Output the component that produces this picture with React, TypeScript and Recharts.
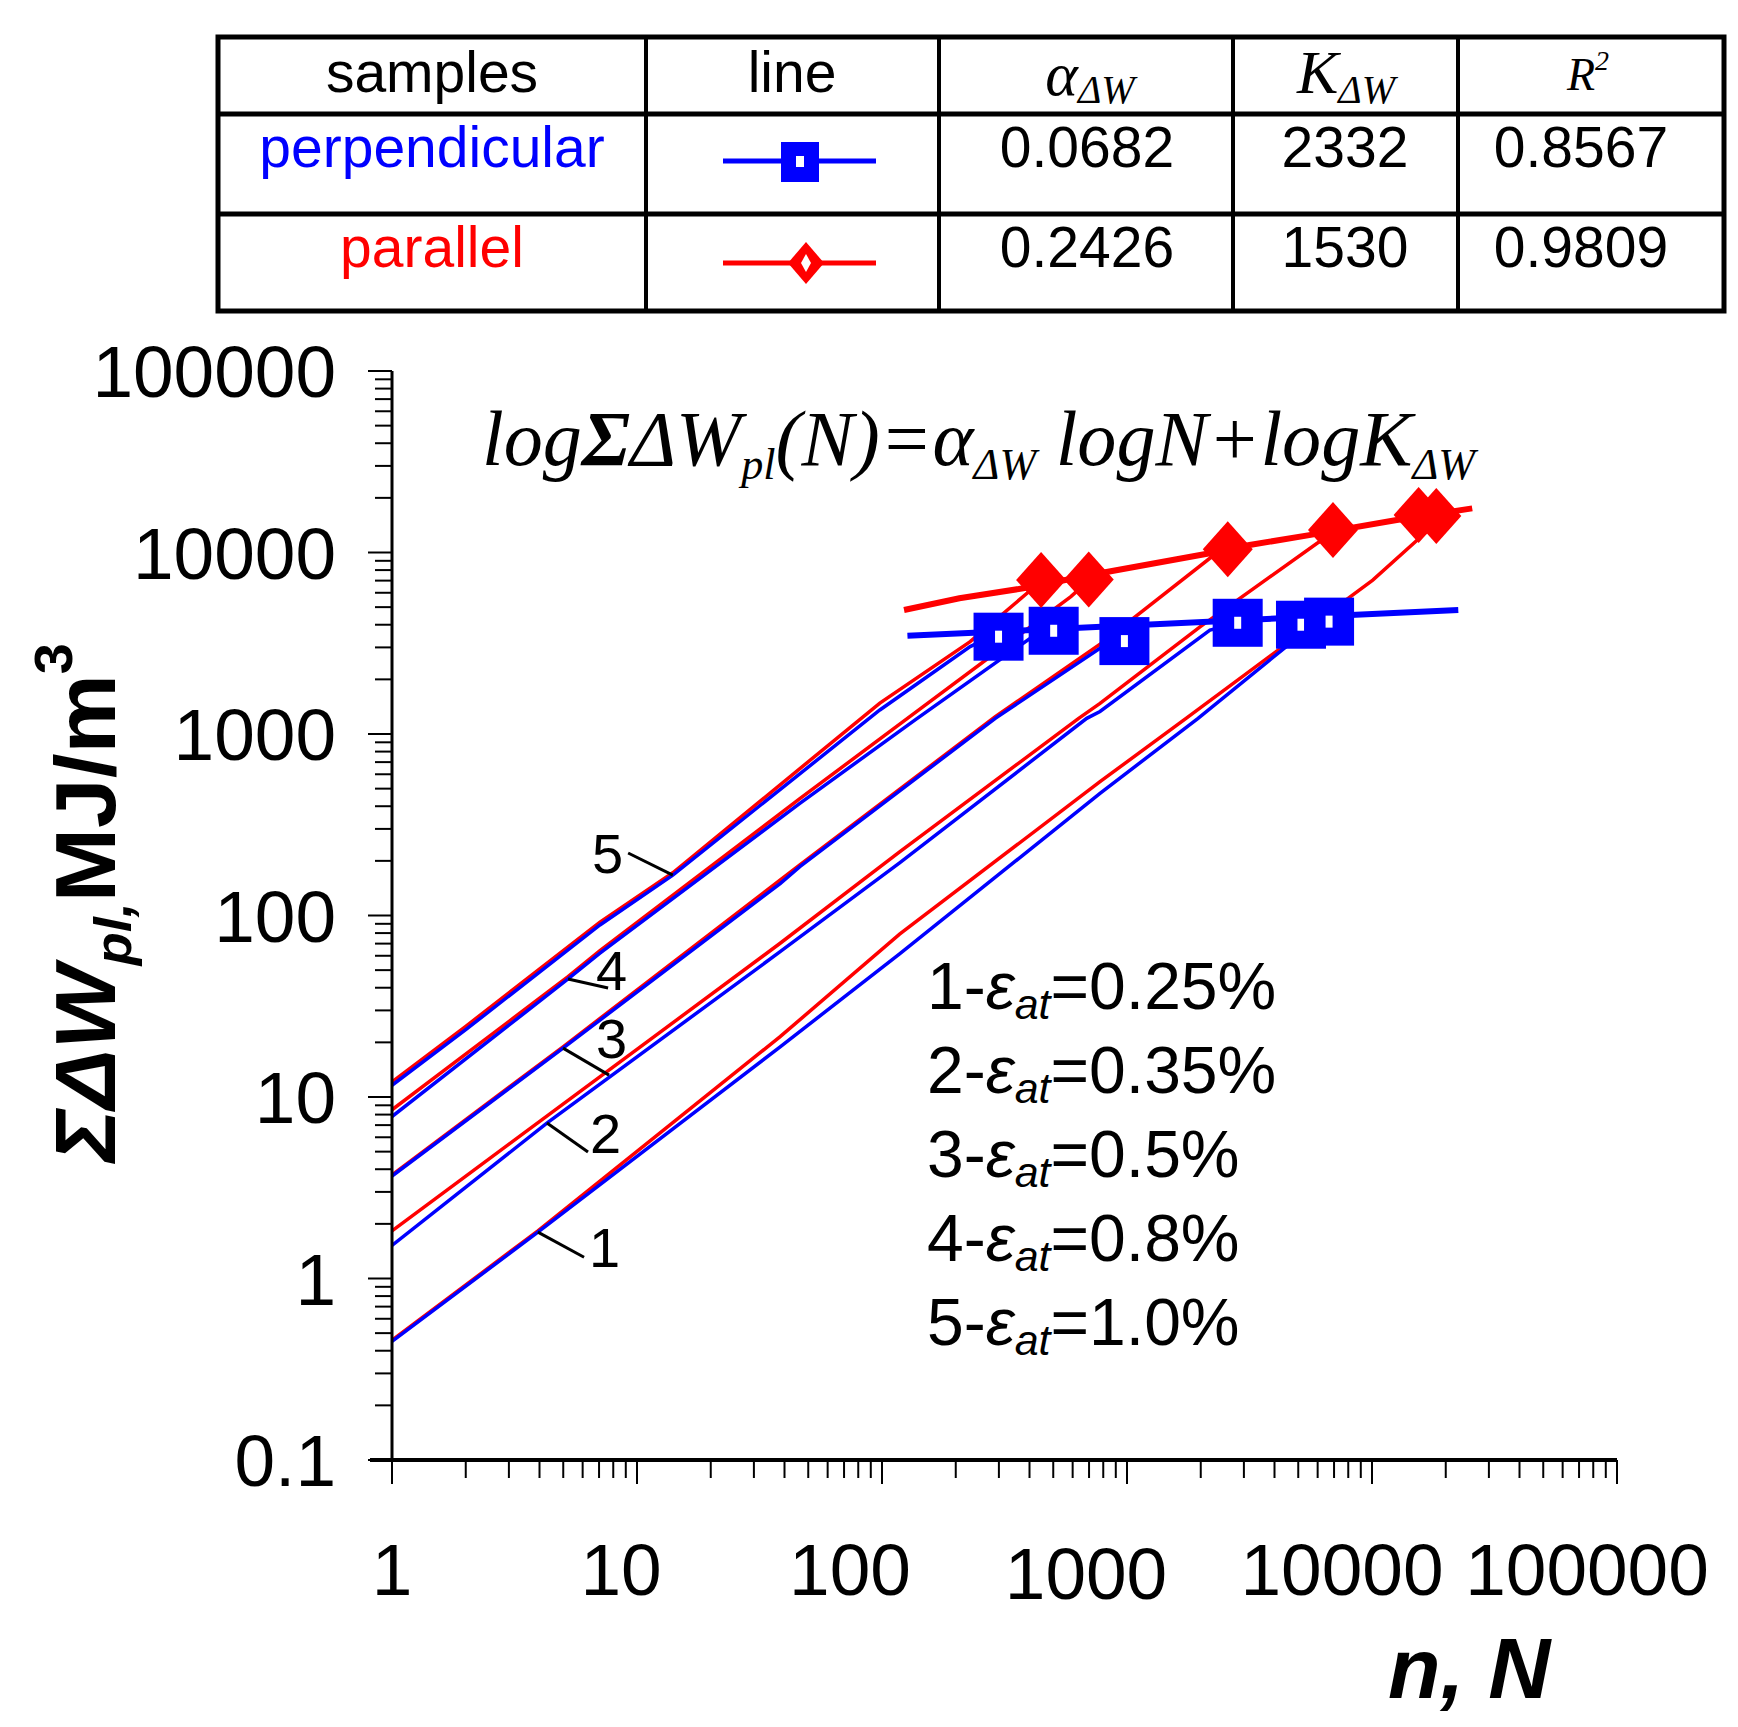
import React from "react";
import {
  ComposedChart,
  Line,
  Scatter,
  XAxis,
  YAxis,
  ReferenceLine,
  ReferenceDot,
} from "recharts";

type Pt = [number, number];

// [N cycles, ΣΔW_pl MJ/m3]
const perp1: Pt[] = [[1, 0.45], [3.94, 1.8], [38.4, 18.9], [118, 61.4], [776, 471], [1950, 1220], [4764, 3250], [6300, 4170]];
const para1: Pt[] = [[1, 0.457], [3.94, 1.83], [38.4, 21.5], [118, 79], [776, 546], [1742, 1220], [10070, 7050], [17000, 13300], [18000, 15800]];
const perp2: Pt[] = [[1, 1.52], [4.3, 7.2], [38.4, 63.2], [118, 195], [685, 1220], [776, 1330], [2180, 3740], [2700, 4000]];
const para2: Pt[] = [[1, 1.83], [38.4, 70.3], [118, 224], [635, 1220], [776, 1476], [1986, 3890], [5970, 11250], [7000, 12800]];
const perp3: Pt[] = [[1, 3.67], [4.99, 18.6], [38.4, 150], [46.2, 186], [290, 1220], [795, 3030], [900, 3300]];
const para3: Pt[] = [[1, 3.72], [4.99, 18.9], [46.2, 190], [290, 1245], [795, 3200], [2178, 9290], [2500, 10300]];
const perp4: Pt[] = [[1, 7.8], [5.23, 44.7], [7.06, 62], [46.2, 415], [137, 1200], [400, 3350], [502, 3750]];
const para4: Pt[] = [[1, 8.5], [5.23, 46], [7.06, 64], [46.2, 440], [127, 1220], [590, 5710], [698, 7000]];
const perp5: Pt[] = [[1, 11.6], [2, 23.5], [7.06, 88.7], [14, 167], [98, 1356], [229, 3030], [299, 3600]];
const para5: Pt[] = [[1, 12.1], [2, 24.5], [7.06, 92], [14, 172], [98, 1480], [229, 3230], [405, 6210], [446, 7000]];

// fitted lines and failure points
const perpFit: Pt[] = [[127, 3475], [22500, 4820]];
const paraFit: Pt[] = [[123, 4820], [207, 5600], [377, 6350], [794, 7740], [2178, 9910], [3162, 10990], [5546, 12470], [12620, 15100], [25650, 17500]];
const perpMarks: Pt[] = [[299, 3437], [502, 3705], [976, 3250], [2830, 4100], [5130, 4000], [6680, 4160]];
const paraMarks: Pt[] = [[446, 7050], [698, 7110], [2578, 10420], [6930, 13300], [15500, 16100], [18300, 15900]];

// curve labels with leader lines: point on curve -> outer end
const curveLabels = ["1", "2", "3", "4", "5"];
const leaderOn: Pt[] = [[3.94, 1.8], [4.29, 7.19], [4.99, 18.6], [5.23, 44.7], [14, 167]];
const leaderOut: Pt[] = [[6.08, 1.31], [6.31, 4.98], [7.69, 13.2], [7.62, 39.9], [9.2, 221]];

const strains = ["0.25", "0.35", "0.5", "0.8", "1.0"];

const tableHead = ["samples", "line"];
const samples = ["perpendicular", "parallel"];
const alphaVals = ["0.0682", "0.2426"];
const kVals = ["2332", "1530"];
const r2Vals = ["0.8567", "0.9809"];

const xMajor = [1, 10, 100, 1000, 10000, 100000];
const yMajor = [0.1, 1, 10, 100, 1000, 10000, 100000];

const BLUE = "#0000ff";
const RED = "#ff0000";
const SANS = "'Liberation Sans', Arial, sans-serif";
const SERIF = "'Liberation Serif', 'Times New Roman', serif";

const toPts = (a: Pt[]) => a.map(([n, w]) => ({ n, w }));

function withMinors(majors: number[]) {
  const out = [...majors];
  majors.slice(0, -1).forEach((m) => {
    for (let k = 2; k <= 9; k++) out.push(m * k);
  });
  return out.sort((a, b) => a - b);
}

const isMajor = (v: number) =>
  Math.abs(Math.log10(v) - Math.round(Math.log10(v))) < 1e-9;

// label nudges as in the original figure
const X_SHIFT: Record<string, number> = {
  "1": 0, "10": -16, "100": -32, "1000": -41, "10000": -30, "100000": -30,
};

function XTick(props: any) {
  const { x, y, payload } = props;
  const v = payload.value;
  const major = isMajor(v);
  const label = String(v);
  return (
    <g>
      <line x1={x} x2={x} y1={y} y2={y + (major ? 24 : 18)} stroke="#000" strokeWidth={2} />
      {v === 1 && <line x1={x - 22} x2={x} y1={y} y2={y} stroke="#000" strokeWidth={4} />}
      {major && (
        <text x={x + (X_SHIFT[label] ?? 0)} y={y + (label === "1000" ? 139 : 135)} textAnchor="middle" fontFamily={SANS} fontSize={73} fill="#000">
          {label}
        </text>
      )}
    </g>
  );
}

function YTick(props: any) {
  const { x, y, payload } = props;
  const v = payload.value;
  const major = isMajor(v);
  return (
    <g>
      <line x1={x - (major ? 24 : 17)} x2={x} y1={y} y2={y} stroke="#000" strokeWidth={2} />
      {major && (
        <text x={x - 56} y={y} dy="0.36em" textAnchor="end" fontFamily={SANS} fontSize={73} fill="#000">
          {String(v)}
        </text>
      )}
    </g>
  );
}

function SquareMark(props: any) {
  const { cx, cy } = props;
  return (
    <g>
      <rect x={cx - 25} y={cy - 24} width={50} height={48} fill={BLUE} />
      <rect x={cx - 3.5} y={cy - 6} width={7} height={12} fill="#fff" />
    </g>
  );
}

function DiamondMark(props: any) {
  const { cx, cy } = props;
  return (
    <polygon
      points={`${cx},${cy - 28} ${cx + 25},${cy} ${cx},${cy + 28} ${cx - 25},${cy}`}
      fill={RED}
    />
  );
}

const LABEL_OFFSET: [number, number, "start" | "end"][] = [
  [5, 10, "start"], [2, 1, "start"], [-13, -17, "start"], [-12, 2, "start"], [-5, 20, "end"],
];

function Overlay() {
  const colX = [218, 646, 939, 1233, 1458, 1724];
  const rowY = [37, 114, 214, 311];
  const rowBase = [167, 267];
  return (
    <svg
      width={1738}
      height={1727}
      style={{ position: "absolute", left: 0, top: 0, pointerEvents: "none" }}
    >
      {/* table */}
      <rect x={colX[0]} y={rowY[0]} width={colX[5] - colX[0]} height={rowY[3] - rowY[0]} fill="none" stroke="#000" strokeWidth={5} />
      {rowY.slice(1, 3).map((y) => (
        <line key={y} x1={colX[0]} x2={colX[5]} y1={y} y2={y} stroke="#000" strokeWidth={5} />
      ))}
      {colX.slice(1, 5).map((x) => (
        <line key={x} x1={x} x2={x} y1={rowY[0]} y2={rowY[3]} stroke="#000" strokeWidth={4} />
      ))}
      <text x={432} y={92} textAnchor="middle" fontFamily={SANS} fontSize={57}>{tableHead[0]}</text>
      <text x={792} y={92} textAnchor="middle" fontFamily={SANS} fontSize={57}>{tableHead[1]}</text>
      <text x={1090} y={95} textAnchor="middle" fontFamily={SERIF} fontStyle="italic" fontSize={62}>
        α<tspan fontSize={40} dy={8}>ΔW</tspan>
      </text>
      <text x={1346} y={93} textAnchor="middle" fontFamily={SERIF} fontStyle="italic" fontSize={62}>
        K<tspan fontSize={40} dy={10}>ΔW</tspan>
      </text>
      <text x={1588} y={90} textAnchor="middle" fontFamily={SERIF} fontStyle="italic" fontSize={46}>
        R<tspan fontSize={28} dy={-20}>2</tspan>
      </text>
      {samples.map((s, i) => (
        <g key={s}>
          <text x={432} y={rowBase[i]} textAnchor="middle" fontFamily={SANS} fontSize={57} fill={i === 0 ? BLUE : RED}>{s}</text>
          <text x={1087} y={rowBase[i]} textAnchor="middle" fontFamily={SANS} fontSize={57}>{alphaVals[i]}</text>
          <text x={1345} y={rowBase[i]} textAnchor="middle" fontFamily={SANS} fontSize={57}>{kVals[i]}</text>
          <text x={1581} y={rowBase[i]} textAnchor="middle" fontFamily={SANS} fontSize={57}>{r2Vals[i]}</text>
        </g>
      ))}
      <line x1={723} x2={876} y1={161} y2={161} stroke={BLUE} strokeWidth={5} />
      <rect x={781} y={142} width={38} height={40} fill={BLUE} />
      <rect x={796} y={156} width={8} height={11} fill="#fff" />
      <line x1={723} x2={876} y1={263} y2={263} stroke={RED} strokeWidth={5} />
      <polygon points="806,242 824,263 806,284 788,263" fill={RED} />
      <polygon points="806,254 811,263 806,272 801,263" fill="#fff" />

      {/* formula */}
      <text x={482} y={465} fontFamily={SERIF} fontStyle="italic" fontSize={78} textLength={993} lengthAdjust="spacingAndGlyphs">
        log<tspan fontWeight="bold">Σ</tspan>ΔW<tspan fontSize={44} dy={14}>pl</tspan>
        <tspan dy={-14}>(N)=α</tspan><tspan fontSize={44} dy={14}>ΔW</tspan>
        <tspan dy={-14}> logN+logK</tspan><tspan fontSize={44} dy={14}>ΔW</tspan>
      </text>

      {/* strain legend */}
      {strains.map((s, i) => (
        <text key={s} x={927} y={1009 + i * 84} fontFamily={SANS} fontSize={66}>
          {`${i + 1}-`}
          <tspan fontStyle="italic">ε</tspan>
          <tspan fontStyle="italic" fontSize={43} dy={10}>at</tspan>
          <tspan dy={-10}>{`=${s}%`}</tspan>
        </text>
      ))}

      {/* axis titles */}
      <text
        transform="translate(115,1162) rotate(-90)"
        fontFamily={SANS}
        fontWeight="bold"
        fontSize={86}
        textLength={519}
        lengthAdjust="spacingAndGlyphs"
      >
        <tspan fontStyle="italic">ΣΔW</tspan>
        <tspan fontStyle="italic" fontSize={52} dy={16}>pl,</tspan>
        <tspan dy={-16}>MJ/m</tspan>
        <tspan fontSize={54} dy={-43}>3</tspan>
      </text>
      <text x={1388} y={1698} fontFamily={SANS} fontWeight="bold" fontStyle="italic" fontSize={86}>
        n, N
      </text>
    </svg>
  );
}

const reds = [para1, para2, para3, para4, para5];
const blues = [perp1, perp2, perp3, perp4, perp5];

export default function App() {
  return (
    <div style={{ position: "absolute", left: 0, top: 0, width: 1738, height: 1727, background: "#fff" }}>
      <ComposedChart width={1738} height={1727} margin={{ top: 371, right: 121, bottom: 0, left: 0 }}>
        <XAxis
          dataKey="n"
          type="number"
          scale="log"
          domain={[1, 100000]}
          allowDataOverflow
          ticks={withMinors(xMajor)}
          interval={0}
          height={267}
          tickSize={0}
          tickMargin={0}
          tickLine={false}
          axisLine={{ stroke: "#000", strokeWidth: 4 }}
          tick={(p: any) => <XTick {...p} />}
        />
        <YAxis
          dataKey="w"
          type="number"
          scale="log"
          domain={[0.1, 100000]}
          allowDataOverflow
          ticks={withMinors(yMajor)}
          interval={0}
          width={392}
          tickSize={0}
          tickMargin={0}
          tickLine={false}
          axisLine={{ stroke: "#000", strokeWidth: 3 }}
          tick={(p: any) => <YTick {...p} />}
        />
        {reds.map((d, i) => (
          <Line key={`r${i}`} data={toPts(d)} dataKey="w" type="linear" stroke={RED} strokeWidth={3.5} dot={false} isAnimationActive={false} />
        ))}
        {blues.map((d, i) => (
          <Line key={`b${i}`} data={toPts(d)} dataKey="w" type="linear" stroke={BLUE} strokeWidth={3.5} dot={false} isAnimationActive={false} />
        ))}
        <Line data={toPts(perpFit)} dataKey="w" type="linear" stroke={BLUE} strokeWidth={6} dot={false} isAnimationActive={false} />
        <Line data={toPts(paraFit)} dataKey="w" type="linear" stroke={RED} strokeWidth={6} dot={false} isAnimationActive={false} />
        <Scatter data={toPts(perpMarks)} dataKey="w" shape={(p: any) => <SquareMark {...p} />} isAnimationActive={false} />
        <Scatter data={toPts(paraMarks)} dataKey="w" shape={(p: any) => <DiamondMark {...p} />} isAnimationActive={false} />
        {curveLabels.map((lab, i) => (
          <ReferenceLine
            key={`l${lab}`}
            segment={[
              { x: leaderOn[i][0], y: leaderOn[i][1] },
              { x: leaderOut[i][0], y: leaderOut[i][1] },
            ]}
            stroke="#000"
            strokeWidth={3}
          />
        ))}
        {curveLabels.map((lab, i) => (
          <ReferenceDot
            key={`t${lab}`}
            x={leaderOut[i][0]}
            y={leaderOut[i][1]}
            r={1}
            shape={(p: any) => (
              <text
                x={p.cx + LABEL_OFFSET[i][0]}
                y={p.cy + LABEL_OFFSET[i][1]}
                textAnchor={LABEL_OFFSET[i][2]}
                fontFamily={SANS}
                fontSize={56}
                fill="#000"
              >
                {lab}
              </text>
            )}
          />
        ))}
      </ComposedChart>
      <Overlay />
    </div>
  );
}
